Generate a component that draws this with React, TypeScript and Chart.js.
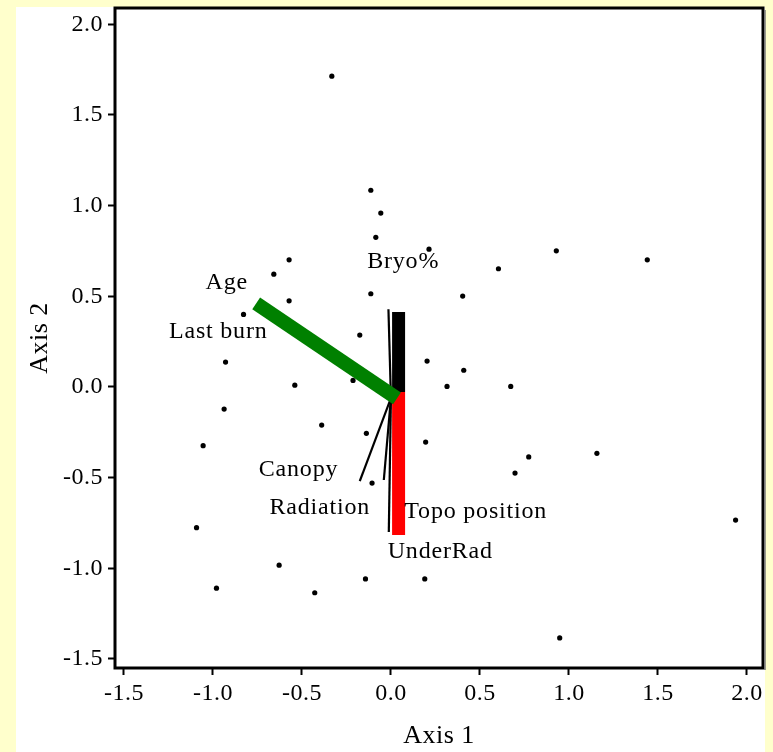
import React, { useEffect, useRef } from "react";
import { Chart, registerables } from "chart.js";

Chart.register(...registerables);

// Sample scores (Axis 1, Axis 2)
const pointX = [
  -0.332, -0.113, -0.057, -0.085, 0.214, 0.929, 1.44, -0.572, 0.604, -0.658,
  -0.113, 0.403, -0.572, -0.828, -0.175, -0.929, 0.203, 0.409, -0.213, -0.54,
  0.315, 0.673, -0.937, -0.389, -0.138, 0.195, -1.055, 1.157, 0.774, 0.697,
  -0.106, -1.092, 1.936, -0.628, -0.143, 0.19, -0.98, -0.428, 0.948,
];
const pointY = [
  1.714, 1.085, 0.959, 0.825, 0.76, 0.751, 0.701, 0.701, 0.652, 0.622,
  0.514, 0.501, 0.475, 0.4, 0.286, 0.137, 0.143, 0.092, 0.036, 0.01,
  0.003, 0.003, -0.122, -0.21, -0.256, -0.304, -0.324, -0.366, -0.386, -0.475,
  -0.53, -0.776, -0.734, -0.983, -1.059, -1.059, -1.11, -1.135, -1.384,
];

// Environmental vectors (start and tip, in axis units)
const vectorNames = ["Age / Last burn", "Bryo%", "Topo position", "Canopy", "Radiation", "UnderRad", "Bryo% (minor)"];
const vecX0 = [0.034, 0.043, 0.043, 0.0, 0.0, 0.0, 0.0];
const vecY0 = [-0.063, -0.028, -0.028, -0.061, -0.061, -0.061, -0.061];
const vecX1 = [-0.757, 0.043, 0.043, -0.175, -0.04, -0.012, -0.014];
const vecY1 = [0.461, 0.413, -0.816, -0.519, -0.513, -0.8, 0.429];

// Vector labels
const labelText = ["Age", "Last burn", "Bryo%", "Canopy", "Radiation", "Topo position", "UnderRad"];
const labelX = [-0.922, -0.97, 0.069, -0.519, -0.4, 0.476, 0.277];
const labelY = [0.54, 0.268, 0.655, -0.491, -0.702, -0.724, -0.942];

// Axis ticks
const tickValues = [-1.5, -1.0, -0.5, 0.0, 0.5, 1.0, 1.5, 2.0];
const axisMin = -1.55;
const axisMax = 2.09;

const vecColors = ["#008000", "#000000", "#ff0000", "#000000", "#000000", "#000000", "#000000"];
const vecWidths = [14, 13, 13, 2.2, 2.2, 2.2, 2.2];

const FONT = "'Liberation Serif', 'Times New Roman', serif";

export default function App() {
  const ref = useRef<HTMLCanvasElement | null>(null);

  useEffect(() => {
    const canvas = ref.current;
    if (!canvas) return;

    const vectorDatasets = vectorNames.map((name, i) => ({
      type: "line" as const,
      label: name,
      data: [
        { x: vecX0[i], y: vecY0[i] },
        { x: vecX1[i], y: vecY1[i] },
      ],
      borderColor: vecColors[i],
      borderWidth: vecWidths[i],
      borderCapStyle: "butt" as const,
      pointRadius: 0,
      showLine: true,
      fill: false,
      tension: 0,
    }));

    const pointsDataset = {
      type: "scatter" as const,
      label: "Samples",
      data: pointX.map((x, i) => ({ x, y: pointY[i] })),
      backgroundColor: "#000",
      borderWidth: 0,
      pointRadius: 2.6,
    };

    const bgPlugin = {
      id: "bg",
      beforeDraw(chart: any) {
        const ctx = chart.ctx;
        ctx.save();
        ctx.fillStyle = "#FFFFCC";
        ctx.fillRect(0, 0, chart.width, chart.height);
        ctx.fillStyle = "#FFFFFF";
        ctx.fillRect(16, 7, 749, chart.height - 7);
        ctx.restore();
        (ctx as any).letterSpacing = "0.5px";
      },
      afterDraw(chart: any) {
        const ctx = chart.ctx;
        const xs = chart.scales.x;
        const ys = chart.scales.y;
        const a = chart.chartArea;
        ctx.save();
        // vector labels
        (ctx as any).letterSpacing = "0.8px";
        ctx.fillStyle = "#000";
        ctx.font = `24px ${FONT}`;
        ctx.textAlign = "center";
        ctx.textBaseline = "alphabetic";
        labelText.forEach((t, i) => {
          ctx.fillText(t, xs.getPixelForValue(labelX[i]), ys.getPixelForValue(labelY[i]));
        });
        // axis titles
        (ctx as any).letterSpacing = "0.5px";
        ctx.font = `26px ${FONT}`;
        ctx.fillText("Axis 1", (a.left + a.right) / 2, 743);
        ctx.save();
        ctx.translate(47, (a.top + a.bottom) / 2);
        ctx.rotate(-Math.PI / 2);
        ctx.fillText("Axis 2", 0, 0);
        ctx.restore();
        // frame
        ctx.strokeStyle = "#000";
        ctx.lineWidth = 3;
        ctx.strokeRect(a.left, a.top, a.right - a.left, a.bottom - a.top);
        ctx.strokeStyle = "#777";
        ctx.lineWidth = 1.5;
        ctx.beginPath();
        ctx.moveTo(a.right + 2, a.top + 2);
        ctx.lineTo(a.right + 2, a.bottom + 2);
        ctx.stroke();
        ctx.restore();
        (ctx as any).letterSpacing = "0px";
      },
    };

    const tickOpts = {
      color: "#000",
      font: { family: FONT, size: 24 },
      callback: (v: any) => Number(v).toFixed(1),
    };

    const zeroPad = (s: any) => {
      s.paddingTop = 0;
      s.paddingBottom = 0;
      s.paddingLeft = 0;
      s.paddingRight = 0;
    };

    const chart = new Chart(canvas, {
      type: "scatter",
      data: { datasets: [...vectorDatasets, pointsDataset] as any },
      plugins: [bgPlugin],
      options: {
        responsive: false,
        animation: false,
        events: [],
        layout: { padding: { left: 0, top: 8, right: 10, bottom: 0 } },
        plugins: { legend: { display: false }, tooltip: { enabled: false } },
        scales: {
          x: {
            type: "linear",
            min: axisMin,
            max: axisMax,
            afterBuildTicks: (s: any) => {
              s.ticks = tickValues.map((v) => ({ value: v }));
            },
            afterFit: (s: any) => {
              s.height = 84;
              zeroPad(s);
            },
            ticks: { ...tickOpts, padding: 4, maxRotation: 0, autoSkip: false },
            grid: { drawOnChartArea: false, drawTicks: true, tickLength: 7, tickWidth: 2, tickColor: "#000" },
            border: { display: false },
          },
          y: {
            type: "linear",
            min: axisMin,
            max: axisMax,
            afterBuildTicks: (s: any) => {
              s.ticks = tickValues.map((v) => ({ value: v }));
            },
            afterFit: (s: any) => {
              s.width = 115;
              zeroPad(s);
            },
            ticks: { ...tickOpts, padding: 5, autoSkip: false },
            grid: { drawOnChartArea: false, drawTicks: true, tickLength: 7, tickWidth: 2, tickColor: "#000" },
            border: { display: false },
          },
        },
      } as any,
    });

    return () => chart.destroy();
  }, []);

  return (
    <div style={{ position: "fixed", left: 0, top: 0, width: 773, height: 752 }}>
      <canvas ref={ref} width={773} height={752} style={{ display: "block", width: 773, height: 752 }} />
    </div>
  );
}
